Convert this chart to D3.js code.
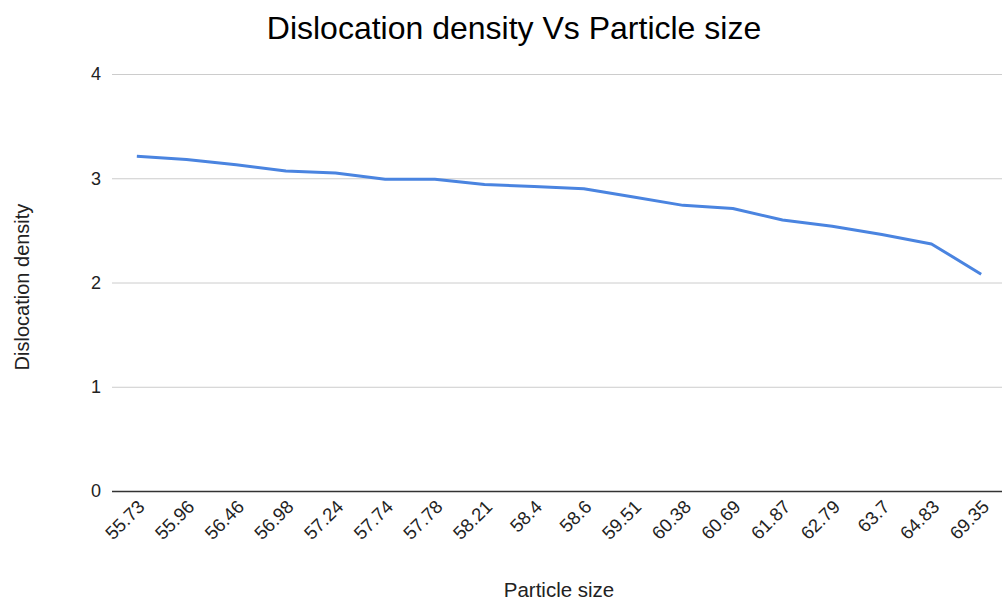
<!DOCTYPE html>
<html><head><meta charset="utf-8">
<script src="https://cdn.jsdelivr.net/npm/d3@7"></script>
<style>body{margin:0;background:#fff}svg{display:block;font-family:"Liberation Sans",Arial,sans-serif}</style>
</head><body><svg id="c" width="1002" height="601"></svg>
<script>
const categories = ["55.73","55.96","56.46","56.98","57.24","57.74","57.78","58.21","58.4","58.6","59.51","60.38","60.69","61.87","62.79","63.7","64.83","69.35"];
const dislocationDensity = [3.21,3.18,3.13,3.07,3.05,2.99,2.99,2.94,2.92,2.90,2.82,2.74,2.71,2.60,2.54,2.46,2.37,2.08];
const yTicks = [0,1,2,3,4];
const chartTitle = "Dislocation density Vs Particle size";
const xTitle = "Particle size";
const yTitle = "Dislocation density";

(function(){
const svg = d3.select("#c");
const mLeft = 112, mRight = 1006, mTop = 74, mBottom = 491;
const x = d3.scaleBand().domain(categories).range([mLeft, mRight]);
const y = d3.scaleLinear().domain([0,4]).range([mBottom, mTop]);

svg.append("text").attr("x", 514).attr("y", 39).attr("text-anchor","middle")
  .attr("font-size", 32).attr("fill","#000").text(chartTitle);

const yAxis = svg.append("g").attr("transform", `translate(${mLeft},0)`)
  .call(d3.axisLeft(y).tickValues(yTicks).tickSize(-(mRight-mLeft)).tickFormat(d3.format("d")));
yAxis.select(".domain").remove();
yAxis.selectAll(".tick line").attr("stroke", d => d===0 ? "#333" : "#ccc").attr("stroke-width", d => d===0?1.5:1);
yAxis.selectAll(".tick text").attr("x", -11).attr("font-size", 18).attr("fill","#222").attr("font-family","Liberation Sans, Arial, sans-serif");

const xAxis = svg.append("g").attr("transform", `translate(0,${mBottom})`)
  .call(d3.axisBottom(x).tickSize(0));
xAxis.select(".domain").remove();
xAxis.selectAll(".tick text")
  .attr("font-size", 18.5).attr("fill","#222").attr("font-family","Liberation Sans, Arial, sans-serif")
  .attr("text-anchor","end").attr("dy", 0).attr("y", 0)
  .attr("transform","translate(9,17) rotate(-45)");

const line = d3.line().x((d,i) => x(categories[i]) + x.bandwidth()/2).y(d => y(d));
svg.append("path").datum(dislocationDensity).attr("d", line)
  .attr("fill","none").attr("stroke","#4a84e0").attr("stroke-width",3).attr("stroke-linejoin","round");

svg.append("text").attr("x", 559).attr("y", 597).attr("text-anchor","middle")
  .attr("font-size", 20.5).attr("fill","#222").text(xTitle);
svg.append("text").attr("transform","translate(29,287) rotate(-90)").attr("text-anchor","middle")
  .attr("font-size", 20).attr("fill","#222").text(yTitle);
})();
</script></body></html>
